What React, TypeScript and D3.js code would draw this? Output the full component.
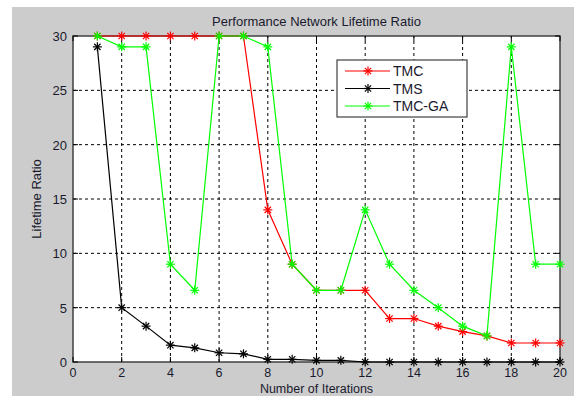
import React, { useRef, useEffect } from 'react';
import * as d3 from 'd3';

const iterations = [1, 2, 3, 4, 5, 6, 7, 8, 9, 10, 11, 12, 13, 14, 15, 16, 17, 18, 19, 20];
const tmc = [30, 30, 30, 30, 30, 30, 30, 14, 9, 6.6, 6.6, 6.6, 4, 4, 3.3, 2.8, 2.4, 1.75, 1.75, 1.75];
const tms = [29, 5, 3.3, 1.55, 1.3, 0.85, 0.75, 0.25, 0.25, 0.15, 0.15, 0, 0, 0, 0, 0, 0, 0, 0, 0];
const tmcGa = [30, 29, 29, 9, 6.6, 30, 30, 29, 9, 6.6, 6.6, 14, 9, 6.6, 5, 3.3, 2.4, 29, 9, 9];
const xTicks = [0, 2, 4, 6, 8, 10, 12, 14, 16, 18, 20];
const yTicks = [0, 5, 10, 15, 20, 25, 30];

const series = [
  { name: 'TMC', values: tmc, color: '#ff0000' },
  { name: 'TMS', values: tms, color: '#000000' },
  { name: 'TMC-GA', values: tmcGa, color: '#00ff00' },
];

const W = 575, H = 396;
const margin = { left: 73, top: 36, right: 15, bottom: 34 };
const font = 'Arial, "Liberation Sans", sans-serif';

const App = () => {
  const svgRef = useRef<SVGSVGElement>(null);

  useEffect(() => {
    const root = d3.select(svgRef.current);
    root.selectAll('*').remove();

    const x = d3.scaleLinear().domain([0, 20]).range([margin.left, W - margin.right]);
    const y = d3.scaleLinear().domain([0, 30]).range([H - margin.bottom, margin.top]);

    // figure background
    root.append('rect').attr('x', 12).attr('y', 7).attr('width', W - 13).attr('height', H - 7).attr('fill', '#cccccc');
    root.append('rect')
      .attr('x', x(0)).attr('y', y(30))
      .attr('width', x(20) - x(0)).attr('height', y(0) - y(30))
      .attr('fill', '#fff');

    // grid
    const grid = root.append('g').attr('stroke', '#000').attr('stroke-width', 1).attr('stroke-dasharray', '3,3');
    grid.selectAll('.gx').data(xTicks.slice(1, -1)).join('line')
      .attr('x1', d => x(d)).attr('x2', d => x(d))
      .attr('y1', y(0)).attr('y2', y(30));
    grid.selectAll('.gy').data(yTicks.slice(1, -1)).join('line')
      .attr('y1', d => y(d)).attr('y2', d => y(d))
      .attr('x1', x(0)).attr('x2', x(20));

    // box + inward ticks
    root.append('rect')
      .attr('x', x(0)).attr('y', y(30))
      .attr('width', x(20) - x(0)).attr('height', y(0) - y(30))
      .attr('fill', 'none').attr('stroke', '#404040').attr('stroke-width', 1.5);
    const tk = root.append('g').attr('stroke', '#000');
    xTicks.forEach(t => {
      tk.append('line').attr('x1', x(t)).attr('x2', x(t)).attr('y1', y(0)).attr('y2', y(0) - 5);
      tk.append('line').attr('x1', x(t)).attr('x2', x(t)).attr('y1', y(30)).attr('y2', y(30) + 5);
    });
    yTicks.forEach(t => {
      tk.append('line').attr('y1', y(t)).attr('y2', y(t)).attr('x1', x(0)).attr('x2', x(0) + 5);
      tk.append('line').attr('y1', y(t)).attr('y2', y(t)).attr('x1', x(20)).attr('x2', x(20) - 5);
    });

    // tick labels
    root.append('g').selectAll('text').data(xTicks).join('text')
      .attr('x', d => x(d)).attr('y', y(0) + 15)
      .attr('text-anchor', 'middle').attr('font-family', font).attr('font-size', 12.5).attr('fill', '#1a1a2e')
      .text(d => d);
    root.append('g').selectAll('text').data(yTicks).join('text')
      .attr('x', x(0) - 6).attr('y', d => y(d) + 5)
      .attr('text-anchor', 'end').attr('font-family', font).attr('font-size', 13).attr('fill', '#1a1a2e')
      .text(d => d);

    // titles
    root.append('text').attr('x', (x(0) + x(20)) / 2).attr('y', 26)
      .attr('text-anchor', 'middle').attr('font-family', font).attr('font-size', 13).attr('fill', '#1a1a2e')
      .text('Performance Network Lifetime Ratio');
    root.append('text').attr('x', (x(0) + x(20)) / 2).attr('y', 393)
      .attr('text-anchor', 'middle').attr('font-family', font).attr('font-size', 12.5).attr('fill', '#1a1a2e')
      .text('Number of Iterations');
    root.append('text').attr('transform', `translate(41,${(y(0) + y(30)) / 2}) rotate(-90)`)
      .attr('text-anchor', 'middle').attr('font-family', font).attr('font-size', 13).attr('fill', '#1a1a2e')
      .text('Lifetime Ratio');

    const star = (g: any, cx: number, cy: number, color: string) => {
      const r = 4.5;
      const s = g.append('g').attr('stroke', color).attr('stroke-width', 1.2);
      s.append('line').attr('x1', cx - r).attr('x2', cx + r).attr('y1', cy).attr('y2', cy);
      s.append('line').attr('x1', cx).attr('x2', cx).attr('y1', cy - r).attr('y2', cy + r);
      const d = r * 0.7;
      s.append('line').attr('x1', cx - d).attr('x2', cx + d).attr('y1', cy - d).attr('y2', cy + d);
      s.append('line').attr('x1', cx - d).attr('x2', cx + d).attr('y1', cy + d).attr('y2', cy - d);
    };

    const line = d3.line<number>().x((_, i) => x(iterations[i])).y(d => y(d));
    series.forEach(s => {
      const g = root.append('g');
      g.append('path').datum(s.values).attr('d', line)
        .attr('fill', 'none').attr('stroke', s.color).attr('stroke-width', 1.2);
      s.values.forEach((v, i) => star(g, x(iterations[i]), y(v), s.color));
    });

    // legend
    const lg = root.append('g');
    lg.append('rect').attr('x', 337).attr('y', 60).attr('width', 130).attr('height', 57)
      .attr('fill', '#fff').attr('stroke', '#404040').attr('stroke-width', 1.2);
    series.forEach((s, i) => {
      const ly = 71 + i * 17.5;
      lg.append('line').attr('x1', 345).attr('x2', 390).attr('y1', ly).attr('y2', ly)
        .attr('stroke', s.color).attr('stroke-width', 1.2);
      star(lg, 368, ly, s.color);
      lg.append('text').attr('x', 393).attr('y', ly + 5)
        .attr('font-family', font).attr('font-size', 14).attr('fill', '#1a1a2e').text(s.name);
    });
  }, []);

  return <svg ref={svgRef} width={W} height={H} style={{ position: 'absolute', left: 0, top: 0 }} />;
};

export default App;
